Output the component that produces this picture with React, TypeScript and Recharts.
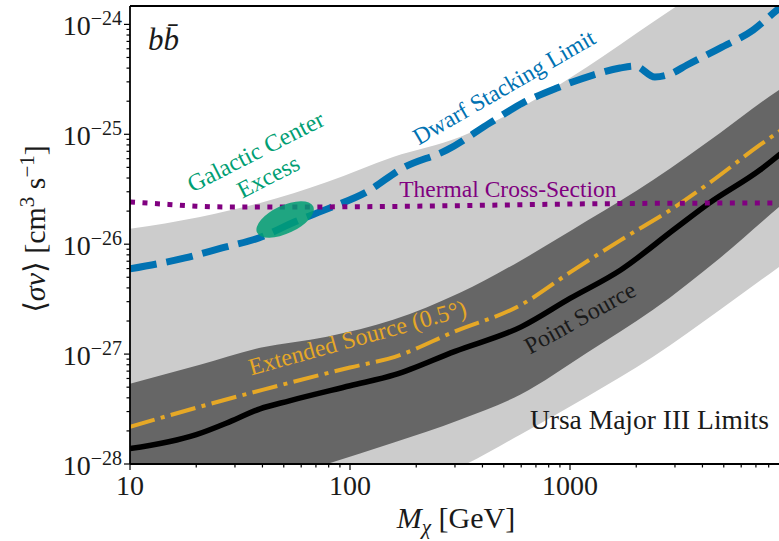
import React from 'react';
import {
  ComposedChart,
  Area,
  Line,
  XAxis,
  YAxis,
  ReferenceDot,
  ReferenceLine,
} from 'recharts';

const FONT = "'Liberation Serif', 'DejaVu Serif', serif";

const X_MIN = 10;
const X_MAX = 10000;
const Y_MIN = 1e-28;
const Y_MAX = 1.47e-24;

// Uncertainty bands (Ursa Major III limits)
const bandMass = [10, 20.8, 39, 78.6, 157, 316, 593, 1195, 2385, 4808, 8920, 10000];
const outerLow = [3.8e-30, 7.2e-30, 1.5e-29, 3.1e-29, 5.8e-29, 9.4e-29, 1.85e-28, 4.09e-28, 9.45e-28, 2.53e-27, 6.22e-27, 7.35e-27];
const outerHigh = [1.38e-26, 1.77e-26, 2.37e-26, 3.68e-26, 6.22e-26, 9.45e-26, 1.73e-25, 4.09e-25, 1.05e-24, 2.75e-24, 7.2e-24, 8.5e-24];
const innerLow = [2.9e-29, 4.5e-29, 6.5e-29, 1.0e-28, 1.56e-28, 2.53e-28, 4.27e-28, 1.03e-27, 2.53e-27, 7.5e-27, 2.18e-26, 2.64e-26];
const innerHigh = [5.37e-28, 8.0e-28, 1.14e-27, 1.44e-27, 2.05e-27, 3.61e-27, 7.05e-27, 1.63e-26, 3.84e-26, 1.03e-25, 2.53e-25, 2.93e-25];

// Point source limit
const pointMass = [10, 20, 28.5, 39, 53, 100, 160, 300, 600, 1000, 1700, 3000, 4300, 7300, 10000];
const pointLimit = [1.38e-28, 1.85e-28, 2.43e-28, 3.18e-28, 3.76e-28, 5.15e-28, 6.49e-28, 1.06e-27, 1.77e-27, 3.21e-27, 5.83e-27, 1.38e-26, 2.37e-26, 4.73e-26, 7.83e-26];

// Extended source (0.5 deg) limit
const extMass = [10, 20, 40, 100, 160, 300, 600, 1000, 1700, 3000, 4300, 7300, 10000];
const extLimit = [2.18e-28, 3.25e-28, 4.73e-28, 7.55e-28, 9.45e-28, 1.61e-27, 2.81e-27, 5.54e-27, 1.09e-26, 2.18e-26, 3.61e-26, 8.0e-26, 1.24e-25];

// Dwarf stacking limit
const dwarfMass = [10, 17.8, 26.2, 38.5, 56.2, 81.1, 119, 174, 276, 433, 611, 873, 1273, 1688, 1974, 2432, 2849, 3404, 4808, 6792, 8730, 10000];
const dwarfLimit = [5.96e-27, 7.5e-27, 9.25e-27, 1.14e-26, 1.6e-26, 2.14e-26, 2.99e-26, 4.94e-26, 7.2e-26, 1.27e-25, 1.93e-25, 2.64e-25, 3.46e-25, 4.01e-25, 4.18e-25, 3.32e-25, 3.53e-25, 4.27e-25, 6.09e-25, 8.87e-25, 1.35e-24, 1.66e-24];

// Thermal relic cross-section
const thermalMass = [10, 15, 20, 30, 50, 100, 300, 1000, 3000, 10000];
const thermalXS = [2.42e-26, 2.3e-26, 2.22e-26, 2.18e-26, 2.18e-26, 2.19e-26, 2.24e-26, 2.32e-26, 2.36e-26, 2.37e-26];

// Galactic Center Excess best fit
const gceMass = [50.7];
const gceXS = [1.68e-26];

const xTicks: number[] = [];
for (let d = 1; d <= 3; d++) for (let k = 1; k <= 9; k++) xTicks.push(k * Math.pow(10, d));
const yTicks: number[] = [];
for (let d = -28; d <= -25; d++) for (let k = 1; k <= 9; k++) yTicks.push(k * Math.pow(10, d));
yTicks.push(1e-24);

const bandData = bandMass.map((m, i) => ({ m, outer: [outerLow[i], outerHigh[i]], inner: [innerLow[i], innerHigh[i]] }));
const pointData = pointMass.map((m, i) => ({ m, v: pointLimit[i] }));
const extData = extMass.map((m, i) => ({ m, v: extLimit[i] }));
const dwarfData = dwarfMass.map((m, i) => ({ m, v: dwarfLimit[i] }));
const thermalData = thermalMass.map((m, i) => ({ m, v: thermalXS[i] }));
const gceData = gceMass.map((m, i) => ({ m, v: gceXS[i] }));

const isMajor = (v: number) => {
  const e = Math.round(Math.log10(v));
  return Math.abs(v / Math.pow(10, e) - 1) < 1e-6;
};

const XTick = (props: any) => {
  const { x, y, payload } = props;
  const v = payload.value;
  const major = isMajor(v);
  return (
    <g>
      <line x1={x} x2={x} y1={y} y2={y + (major ? 6 : 3.5)} stroke="#000" strokeWidth={1.2} />
      {major && (
        <text x={x} y={y + 31} textAnchor="middle" fontSize={28} fontFamily={FONT} fill="#1a1a1a">
          {String(Math.round(v))}
        </text>
      )}
    </g>
  );
};

const YTick = (props: any) => {
  const { x, y, payload } = props;
  const v = payload.value;
  const major = isMajor(v);
  const e = Math.round(Math.log10(v));
  return (
    <g>
      <line x1={x - (major ? 6 : 3.5)} x2={x} y1={y} y2={y} stroke="#000" strokeWidth={1.2} />
      {major && (
        <text x={x - 8} y={y + 11} textAnchor="end" fontFamily={FONT} fill="#1a1a1a">
          <tspan fontSize={28}>10</tspan>
          <tspan fontSize={20} dy={-10}>{'\u2212' + String(-e)}</tspan>
        </text>
      )}
    </g>
  );
};

const XTitle = (props: any) => {
  const vb = props.viewBox || { x: 130, y: 464, width: 660, height: 77 };
  const cx = vb.x + vb.width / 2 - 4;
  return (
    <text x={cx} y={vb.y + 64} textAnchor="middle" fontSize={30} fontFamily={FONT} fill="#1a1a1a">
      <tspan fontStyle="italic">M</tspan>
      <tspan fontStyle="italic" fontSize={21} dy={6}>χ</tspan>
      <tspan dy={-6}>{' [GeV]'}</tspan>
    </text>
  );
};

const YTitle = (props: any) => {
  const vb = props.viewBox || { x: 0, y: 6, width: 130, height: 458 };
  const x = vb.x + 45;
  const y = vb.y + vb.height / 2 - 6;
  return (
    <text
      x={x}
      y={y}
      transform={`rotate(-90 ${x} ${y})`}
      textAnchor="middle"
      fontSize={30}
      fontFamily={FONT}
      fill="#1a1a1a"
    >
      <tspan>{'\u27E8'}</tspan>
      <tspan fontStyle="italic">σv</tspan>
      <tspan>{'\u27E9 [cm'}</tspan>
      <tspan fontSize={21} dy={-11}>3</tspan>
      <tspan dy={11}>{' s'}</tspan>
      <tspan fontSize={21} dy={-11}>{'\u22121'}</tspan>
      <tspan dy={11}>]</tspan>
    </text>
  );
};

const TextLabel = (props: any) => {
  const { viewBox, lines, rot = 0, tint = '#1a1a1a', size = 24, anchorMode = 'middle', gap, italic, base = 'central' } = props;
  const vb = viewBox || { x: 0, y: 0, width: 0, height: 0 };
  const x = vb.x + (vb.width || 0) / 2;
  const y = vb.y + (vb.height || 0) / 2;
  const n = lines.length;
  const g = gap ?? size * 1.15;
  return (
    <text
      transform={`rotate(${rot} ${x} ${y})`}
      x={x}
      y={y}
      fill={tint}
      fontSize={size}
      fontFamily={FONT}
      fontStyle={italic ? 'italic' : 'normal'}
      textAnchor={anchorMode}
      dominantBaseline={base}
    >
      {lines.map((l: string, i: number) => (
        <tspan key={i} x={x} y={y + (i - (n - 1) / 2) * g}>
          {l}
        </tspan>
      ))}
    </text>
  );
};

const GceShape = (props: any) => {
  const { cx, cy } = props;
  if (cx == null || cy == null) return null;
  return (
    <ellipse
      key="gce"
      cx={cx}
      cy={cy}
      rx={31}
      ry={14}
      transform={`rotate(-25 ${cx} ${cy})`}
      fill="#009E73"
      fillOpacity={0.85}
    />
  );
};

export default function App() {
  return (
    <div style={{ position: 'absolute', left: 0, top: 0, width: 779, height: 541, overflow: 'hidden', background: '#fff' }}>
      <ComposedChart width={800} height={541} margin={{ top: 6, right: 10, bottom: 0, left: 0 }}>
        <XAxis
          dataKey="m"
          type="number"
          scale="log"
          domain={[X_MIN, X_MAX]}
          allowDataOverflow
          ticks={xTicks}
          interval={0}
          tickSize={0}
          tickMargin={0}
          tick={<XTick />}
          tickLine={false}
          axisLine={false}
          height={77}
          label={<XTitle />}
        />
        <YAxis
          type="number"
          scale="log"
          domain={[Y_MIN, Y_MAX]}
          allowDataOverflow
          ticks={yTicks}
          interval={0}
          tickSize={0}
          tickMargin={0}
          tick={<YTick />}
          tickLine={false}
          axisLine={false}
          width={130}
          label={<YTitle />}
        />
        <Area
          data={bandData}
          dataKey="outer"
          type="monotone"
          stroke="none"
          fill="#cccccc"
          fillOpacity={1}
          isAnimationActive={false}
          activeDot={false}
        />
        <Area
          data={bandData}
          dataKey="inner"
          type="monotone"
          stroke="none"
          fill="#666666"
          fillOpacity={1}
          isAnimationActive={false}
          activeDot={false}
        />
        <Line
          data={dwarfData}
          dataKey="v"
          type="monotone"
          stroke="#0072B2"
          strokeWidth={7}
          strokeDasharray="27 10"
          dot={false}
          activeDot={false}
          isAnimationActive={false}
        />
        <Line
          data={extData}
          dataKey="v"
          type="monotone"
          stroke="#E6A826"
          strokeWidth={4}
          strokeDasharray="25.6 6.4 4 6.4"
          dot={false}
          activeDot={false}
          isAnimationActive={false}
        />
        <Line
          data={pointData}
          dataKey="v"
          type="monotone"
          stroke="#000000"
          strokeWidth={5.5}
          dot={false}
          activeDot={false}
          isAnimationActive={false}
        />
        <Line
          data={thermalData}
          dataKey="v"
          type="monotone"
          stroke="#800080"
          strokeWidth={5}
          strokeDasharray="5 7.5"
          dot={false}
          activeDot={false}
          isAnimationActive={false}
        />
        <Line
          data={gceData}
          dataKey="v"
          stroke="none"
          dot={<GceShape />}
          activeDot={false}
          isAnimationActive={false}
        />
        <ReferenceLine y={Y_MAX} stroke="#000" strokeWidth={1.8} />
        <ReferenceLine y={Y_MIN} stroke="#000" strokeWidth={1.8} />
        <ReferenceLine x={X_MIN} stroke="#000" strokeWidth={1.8} />
        <ReferenceDot x={12.07} y={5.84e-25} r={0} fill="none" stroke="none"
          label={<TextLabel lines={['b\u0062\u0304']} size={31} italic anchorMode="start" base="alphabetic" />} />
        <ReferenceDot x={39.8} y={5.37e-26} r={0} fill="none" stroke="none"
          label={<TextLabel lines={['Galactic Center', 'Excess']} rot={-27} tint="#009E73" size={24} gap={28} />} />
        <ReferenceDot x={501} y={2.69e-25} r={0} fill="none" stroke="none"
          label={<TextLabel lines={['Dwarf Stacking Limit']} rot={-30} tint="#0072B2" size={23.5} />} />
        <ReferenceDot x={522} y={3.18e-26} r={0} fill="none" stroke="none"
          label={<TextLabel lines={['Thermal Cross-Section']} tint="#800080" size={23.5} />} />
        <ReferenceDot x={108} y={1.41e-27} r={0} fill="none" stroke="none"
          label={<TextLabel lines={['Extended Source (0.5°)']} rot={-15.5} tint="#E6A826" size={24} />} />
        <ReferenceDot x={1110} y={2.14e-27} r={0} fill="none" stroke="none"
          label={<TextLabel lines={['Point Source']} rot={-29} tint="#1a1a1a" size={24} />} />
        <ReferenceDot x={2296} y={2.58e-28} r={0} fill="none" stroke="none"
          label={<TextLabel lines={['Ursa Major III Limits']} tint="#1a1a1a" size={27.5} />} />
      </ComposedChart>
    </div>
  );
}
